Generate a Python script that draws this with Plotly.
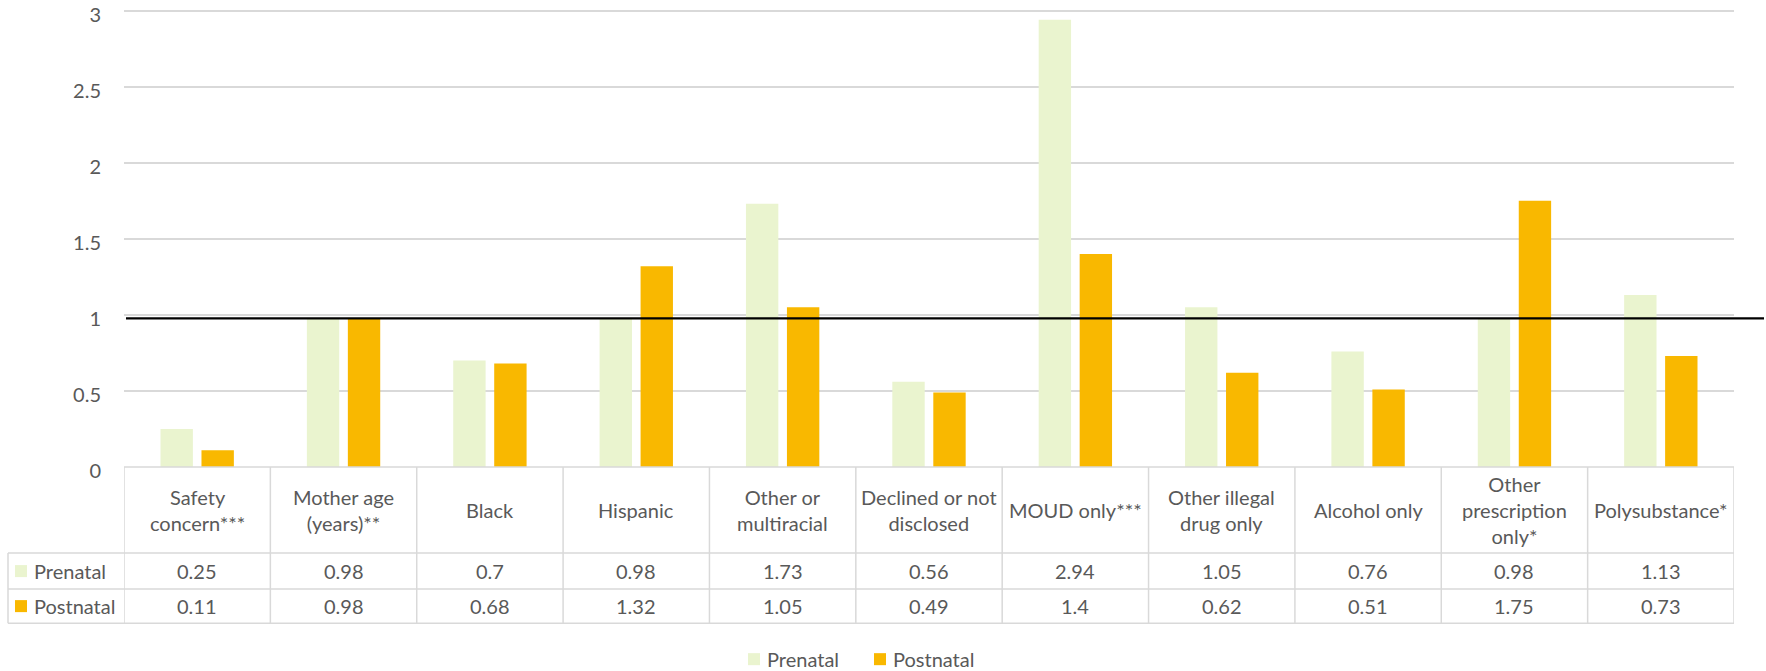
import plotly.graph_objects as go

# Odds ratios by factor, prenatal vs postnatal
categories = [
    "Safety<br>concern***",
    "Mother age<br>(years)**",
    "Black",
    "Hispanic",
    "Other or<br>multiracial",
    "Declined or not<br>disclosed",
    "MOUD only***",
    "Other illegal<br>drug only",
    "Alcohol only",
    "Other<br>prescription<br>only*",
    "Polysubstance*",
]
prenatal = [0.25, 0.98, 0.7, 0.98, 1.73, 0.56, 2.94, 1.05, 0.76, 0.98, 1.13]
postnatal = [0.11, 0.98, 0.68, 1.32, 1.05, 0.49, 1.4, 0.62, 0.51, 1.75, 0.73]
prenatal_labels = ["0.25", "0.98", "0.7", "0.98", "1.73", "0.56", "2.94", "1.05", "0.76", "0.98", "1.13"]
postnatal_labels = ["0.11", "0.98", "0.68", "1.32", "1.05", "0.49", "1.4", "0.62", "0.51", "1.75", "0.73"]
series_names = ["Prenatal", "Postnatal"]
y_ticks = [0, 0.5, 1, 1.5, 2, 2.5, 3]
y_tick_labels = ["0", "0.5", "1", "1.5", "2", "2.5", "3"]
reference_value = 0.977
y_max = 3.05

PRE_COLOR = "#EAF4CF"
POST_COLOR = "#F9B800"
TEXT_COLOR = "#595959"
GRID_COLOR = "#D9D9D9"
FONT = "Lato"

W, H = 1766, 671
ML, MR, MB = 124, 32, 204
MT = (H - MB) - y_max * 152  # 152 px per unit, so 3 sits near the top edge
plot_h = H - MT - MB
plot_w = W - ML - MR


def py(pix):
    """Pixel row (from top) -> paper y."""
    return (H - MB - pix) / plot_h


def px(pix):
    """Pixel column -> paper x."""
    return (pix - ML) / plot_w


fig = go.Figure()
fig.add_trace(go.Bar(x=categories, y=prenatal, name=series_names[0],
                     marker=dict(color=PRE_COLOR, line=dict(width=0))))
fig.add_trace(go.Bar(x=categories, y=postnatal, name=series_names[1],
                     marker=dict(color=POST_COLOR, line=dict(width=0))))

shapes = []
annotations = []

# reference line near 1
shapes.append(dict(type="line", xref="paper", yref="y", x0=px(126), x1=px(1764),
                   y0=reference_value, y1=reference_value,
                   line=dict(color="black", width=2.2), layer="above"))

# data table beneath the plot
y_top, y_head, y_r1, y_r2 = py(467), py(553), py(589), py(623)
line_style = dict(color=GRID_COLOR, width=1.5)
n = len(categories)
for yy, x0 in [(y_top, px(124)), (y_head, px(8)), (y_r1, px(8)), (y_r2, px(8))]:
    shapes.append(dict(type="line", xref="paper", yref="paper", x0=x0, x1=1,
                       y0=yy, y1=yy, line=line_style))
for k in range(n + 1):
    shapes.append(dict(type="line", xref="x", yref="paper", x0=k - 0.5, x1=k - 0.5,
                       y0=y_top, y1=y_r2, line=line_style))
shapes.append(dict(type="line", xref="paper", yref="paper", x0=px(8), x1=px(8),
                   y0=y_head, y1=y_r2, line=line_style))

cell_font = dict(family=FONT, size=20, color=TEXT_COLOR)
for cat in categories:
    annotations.append(dict(x=cat, xref="x", y=(y_top + y_head) / 2, yref="paper",
                            text=cat, showarrow=False, font=cell_font,
                            xanchor="center", yanchor="middle", align="center"))
for row_y0, row_y1, labels in [(y_head, y_r1, prenatal_labels), (y_r1, y_r2, postnatal_labels)]:
    for cat, lab in zip(categories, labels):
        annotations.append(dict(x=cat, xref="x", y=(row_y0 + row_y1) / 2, yref="paper",
                                text=lab, showarrow=False, font=cell_font,
                                xanchor="center", yanchor="middle"))


def add_key(x_left, y_mid, name, color):
    """Colour swatch followed by its series name."""
    shapes.append(dict(type="rect", xref="paper", yref="paper",
                       x0=px(x_left), x1=px(x_left + 12),
                       y0=py(y_mid + 6), y1=py(y_mid - 6),
                       fillcolor=color, line=dict(width=0)))
    annotations.append(dict(x=px(x_left + 17), xref="paper", y=py(y_mid), yref="paper",
                            text=name, showarrow=False, font=cell_font,
                            xanchor="left", yanchor="middle"))


# row headers of the table
add_key(15, 571, series_names[0], PRE_COLOR)
add_key(15, 606, series_names[1], POST_COLOR)

# legend below the table
add_key(748, 659, series_names[0], PRE_COLOR)
add_key(874, 659, series_names[1], POST_COLOR)

fig.update_layout(
    width=W, height=H,
    margin=dict(l=ML, r=MR, t=MT, b=MB, pad=0, autoexpand=False),
    paper_bgcolor="white", plot_bgcolor="white",
    barmode="group", bargap=0.44, bargroupgap=0.21,
    showlegend=False,
    font=dict(family=FONT, size=20, color=TEXT_COLOR),
    xaxis=dict(showticklabels=False, showgrid=False, zeroline=False, showline=False,
               ticks="", range=[-0.5, n - 0.5], automargin=False),
    yaxis=dict(range=[0, y_max], tickmode="array", tickvals=y_ticks, ticktext=y_tick_labels,
               showgrid=True, gridcolor=GRID_COLOR, gridwidth=1.5,
               zeroline=False, showline=False, ticks="", ticklabelstandoff=22,
               ticklabelshift=4, ticklabeloverflow="allow", automargin=False,
               tickfont=dict(family=FONT, size=20, color=TEXT_COLOR)),
    shapes=shapes,
    annotations=annotations,
)

fig.write_html("out.html")
